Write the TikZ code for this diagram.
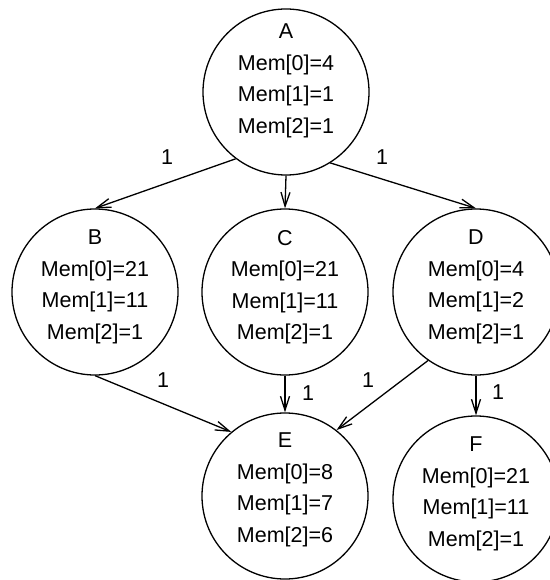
\documentclass[tikz,border=0pt]{standalone}
\usepackage{fontspec}
\setmainfont{Liberation Sans}
\usetikzlibrary{arrows.meta}

\tikzset{
  state/.style={circle, draw, line width=1.3pt, minimum size=166pt, inner sep=0pt},
  memtext/.style={align=center, inner sep=0pt, font=\fontsize{21.5}{31.5}\selectfont},
  weight/.style={inner sep=0pt, font=\fontsize{21.5}{24}\selectfont},
  arr/.style={line width=1.3pt, -{Straight Barb[length=14pt,width=9pt,line width=1.3pt]}}
}

\begin{document}
\begin{tikzpicture}[x=1pt,y=-1pt]
  \useasboundingbox (0,0) rectangle (549,580);

  % memory states
  \node[state] (A) at (286,92)  {};
  \node[state] (B) at (95,292)  {};
  \node[state] (C) at (285,292) {};
  \node[state] (D) at (476,292) {};
  \node[state] (E) at (285,496) {};
  \node[state] (F) at (476,499) {};

  % contents of each state
  \node[memtext] (At) at ([yshift=11pt]A.center) {A\\Mem[0]=4\\Mem[1]=1\\Mem[2]=1};
  \node[memtext] (Bt) at ([yshift=5pt]B.center)  {B\\Mem[0]=21\\Mem[1]=11\\Mem[2]=1};
  \node[memtext] (Ct) at ([yshift=5pt]C.center)  {C\\Mem[0]=21\\Mem[1]=11\\Mem[2]=1};
  \node[memtext] (Dt) at ([yshift=5pt]D.center)  {D\\Mem[0]=4\\Mem[1]=2\\Mem[2]=1};
  \node[memtext] (Et) at ([yshift=6pt]E.center)  {E\\Mem[0]=8\\Mem[1]=7\\Mem[2]=6};
  \node[memtext] (Ft) at ([yshift=5pt]F.center)  {F\\Mem[0]=21\\Mem[1]=11\\Mem[2]=1};

  % transitions
  \draw[arr] (A.233) -- (B.north);
  \draw[arr] (A.south) -- (C.north);
  \draw[arr] (A.302) -- (D.north);
  \draw[arr] (B.south) -- (E.130);
  \draw[arr] (C.south) -- (E.north);
  \draw[arr] (D.235) -- (E.52);
  \draw[arr] (D.south) -- (F.north);

  % transition weights
  \node[weight] (wAB) at (167,157) {1};
  \node[weight] (wAD) at (382,157) {1};
  \node[weight] (wBE) at (163,380) {1};
  \node[weight] (wCE) at (308,393) {1};
  \node[weight] (wDE) at (368,380) {1};
  \node[weight] (wDF) at (498,392) {1};
\end{tikzpicture}
\end{document}
